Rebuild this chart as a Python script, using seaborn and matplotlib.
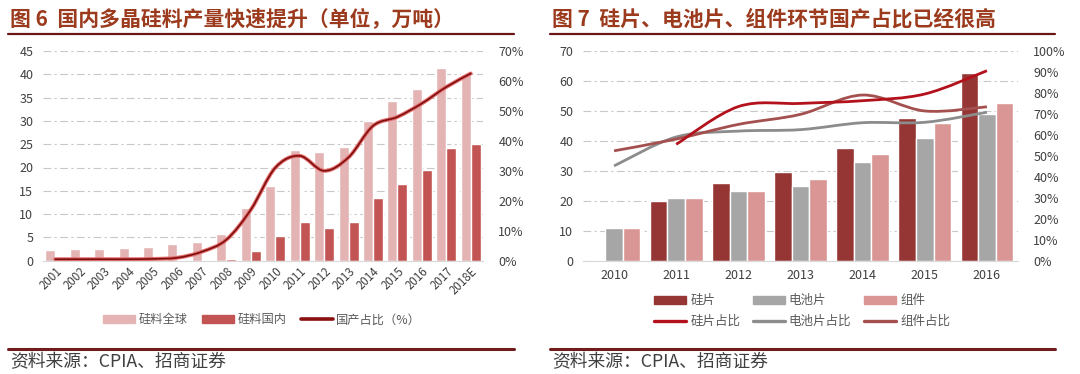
import numpy as np
import pandas as pd
import matplotlib
matplotlib.use("Agg")
import matplotlib.pyplot as plt
import seaborn as sns
from matplotlib.path import Path
from matplotlib.patches import PathPatch, Patch
from matplotlib.lines import Line2D
import matplotlib.patheffects as pe

# ---------------- Data: left chart (图6) ----------------
years_l = ["2001", "2002", "2003", "2004", "2005", "2006", "2007", "2008", "2009",
           "2010", "2011", "2012", "2013", "2014", "2015", "2016", "2017", "2018E"]
poly_global = [2.3, 2.5, 2.5, 2.7, 3.0, 3.6, 4.1, 5.8, 11.4, 16.0, 23.8, 23.4, 24.5,
               30.0, 34.3, 36.9, 41.4, 40.1]
poly_domestic = [0.0, 0.0, 0.0, 0.0, 0.0, 0.05, 0.15, 0.4, 2.1, 5.3, 8.4, 7.1, 8.4,
                 13.5, 16.5, 19.4, 24.1, 25.0]
poly_share = [0.5, 0.5, 0.5, 0.5, 0.6, 1.0, 3.0, 7.0, 17.0, 31.0, 35.0, 30.0, 34.5,
              45.0, 48.0, 52.5, 58.0, 62.5]
labels_l = ["硅料全球", "硅料国内", "国产占比（%）"]

# ---------------- Data: right chart (图7) ----------------
years_r = ["2010", "2011", "2012", "2013", "2014", "2015", "2016"]
wafer = [np.nan, 20.0, 26.0, 29.7, 37.7, 47.7, 62.8]
cell = [11.0, 21.0, 23.3, 25.1, 32.8, 40.9, 48.9]
module = [11.0, 21.0, 23.3, 27.3, 35.7, 45.9, 52.6]
wafer_share = [np.nan, 55.5, 73.5, 75.0, 76.3, 79.5, 90.6]
cell_share = [45.2, 59.0, 61.8, 62.5, 65.8, 66.0, 70.8]
module_share = [52.4, 58.0, 65.0, 69.8, 79.0, 71.4, 73.4]
labels_r = ["硅片", "电池片", "组件", "硅片占比", "电池片占比", "组件占比"]

titles = ["图 6  国内多晶硅料产量快速提升（单位，万吨）",
          "图 7  硅片、电池片、组件环节国产占比已经很高"]
source = "资料来源：CPIA、招商证券"

# ---------------- Style ----------------
sns.set_theme(style="white")
plt.rcParams["font.family"] = ["Noto Sans CJK SC", "DejaVu Sans"]
plt.rcParams["axes.unicode_minus"] = False

W, H = 1080, 374
fig = plt.figure(figsize=(W / 100, H / 100), dpi=100)
fig.patch.set_facecolor("white")

TICK_C = "#404040"
GRID_C = "#C8C8C8"
TITLE_C = "#9B3A1C"
RULE_C = "#6B1616"


def rect(x0, y0, x1, y1):
    return [x0 / W, 1 - y1 / H, (x1 - x0) / W, (y1 - y0) / H]


def smooth_path(xs, ys):
    pts = np.array([(x, y) for x, y in zip(xs, ys) if not np.isnan(y)], dtype=float)
    n = len(pts)
    verts = [pts[0]]
    codes = [Path.MOVETO]
    for i in range(n - 1):
        p0 = pts[max(i - 1, 0)]
        p1 = pts[i]
        p2 = pts[i + 1]
        p3 = pts[min(i + 2, n - 1)]
        c1 = p1 + (p2 - p0) / 6.0
        c2 = p2 - (p3 - p1) / 6.0
        verts += [c1, c2, p2]
        codes += [Path.CURVE4] * 3
    return Path(verts, codes)


def style_axis(ax, ymax, step):
    ax.set_ylim(0, ymax)
    ax.set_yticks(np.arange(0, ymax + 0.01, step))
    ax.yaxis.grid(True, color=GRID_C, lw=0.8, linestyle=(0, (7, 3, 2, 3)))
    ax.xaxis.grid(False)
    ax.set_axisbelow(True)
    for s in ["top", "right", "left"]:
        ax.spines[s].set_visible(False)
    ax.spines["bottom"].set_color("#D9D9D9")
    ax.spines["bottom"].set_linewidth(0.8)
    ax.tick_params(axis="both", length=0, labelsize=9, labelcolor=TICK_C)
    ax.set_xlabel("")
    ax.set_ylabel("")


def pct_axis(ax2, ymax, step):
    ax2.set_ylim(0, ymax)
    ax2.set_yticks(np.arange(0, ymax + 0.01, step))
    ax2.set_yticklabels([f"{int(v)}%" for v in np.arange(0, ymax + 0.01, step)])
    ax2.grid(False)
    for s in ["top", "right", "left", "bottom"]:
        ax2.spines[s].set_visible(False)
    ax2.tick_params(axis="y", length=0, labelsize=9, labelcolor=TICK_C, pad=11)


# ---------------- Left chart ----------------
axL = fig.add_axes(rect(43, 51, 483, 260.7))
dfL = pd.DataFrame({
    "year": years_l * 2,
    "value": poly_global + poly_domestic,
    "series": [labels_l[0]] * len(years_l) + [labels_l[1]] * len(years_l),
})
colL = {labels_l[0]: "#E4B4B4", labels_l[1]: "#C25553"}
sns.barplot(data=dfL, x="year", y="value", hue="series", hue_order=labels_l[:2],
            palette=colL, width=0.82, saturation=1, errorbar=None, legend=False, ax=axL)
style_axis(axL, 45, 5)
axL.tick_params(axis="y", pad=7)
axL.set_xlim(-0.5, len(years_l) - 0.5)
for lab in axL.get_xticklabels():
    lab.set_rotation(45)
    lab.set_ha("right")
    lab.set_rotation_mode("anchor")
    lab.set_fontsize(8.3)
axL.tick_params(axis="x", pad=3)

axL2 = axL.twinx()
pct_axis(axL2, 70, 10)
pL = PathPatch(smooth_path(np.arange(len(years_l)), poly_share), fill=False,
               edgecolor="#7E0E0E", lw=1.2, capstyle="round",
               path_effects=[pe.Stroke(linewidth=2.8, foreground="#E36C6C"), pe.Normal()])
axL2.add_patch(pL)
axL2.set_xlim(-0.5, len(years_l) - 0.5)
axL2.set_ylim(0, 70)

handlesL = [Patch(color=colL[labels_l[0]]), Patch(color=colL[labels_l[1]]),
            Line2D([], [], color="#8A1010", lw=2.6)]
fig.legend(handlesL, labels_l, loc="center", bbox_to_anchor=(262 / W, 1 - 320 / H),
           ncol=3, frameon=False, fontsize=8.8, labelcolor="#595959",
           handlelength=2.6, handleheight=0.55, handletextpad=0.3, columnspacing=1.2)

# ---------------- Right chart ----------------
axR = fig.add_axes(rect(583, 51, 1018, 260.7))
dfR = pd.DataFrame({
    "year": years_r * 3,
    "value": wafer + cell + module,
    "series": [labels_r[0]] * 7 + [labels_r[1]] * 7 + [labels_r[2]] * 7,
})
colR = {labels_r[0]: "#963634", labels_r[1]: "#A6A6A6", labels_r[2]: "#D99694"}
sns.barplot(data=dfR, x="year", y="value", hue="series", hue_order=labels_r[:3],
            palette=colR, width=0.85, saturation=1, errorbar=None, legend=False, ax=axR)
style_axis(axR, 70, 10)
axR.tick_params(axis="y", pad=7)
axR.tick_params(axis="x", pad=6)
axR.set_xlim(-0.5, len(years_r) - 0.5)

axR2 = axR.twinx()
pct_axis(axR2, 100, 10)
line_cols = ["#B3121C", "#8C8C8C", "#A3504F"]
xs = np.arange(len(years_r))
for ser, c in zip([cell_share, module_share, wafer_share], [line_cols[1], line_cols[2], line_cols[0]]):
    axR2.add_patch(PathPatch(smooth_path(xs, ser), fill=False, edgecolor=c, lw=2.0,
                             capstyle="butt"))
axR2.set_xlim(-0.5, len(years_r) - 0.5)
axR2.set_ylim(0, 100)

handlesR = [Patch(color=colR[labels_r[0]]), Line2D([], [], color=line_cols[0], lw=2.4),
            Patch(color=colR[labels_r[1]]), Line2D([], [], color=line_cols[1], lw=2.4),
            Patch(color=colR[labels_r[2]]), Line2D([], [], color=line_cols[2], lw=2.4)]
labsR = [labels_r[0], labels_r[3], labels_r[1], labels_r[4], labels_r[2], labels_r[5]]
fig.legend(handlesR, labsR, loc="center", bbox_to_anchor=(802 / W, 1 - 311 / H),
           ncol=3, frameon=False, fontsize=9, labelcolor="#595959",
           handlelength=2.6, handleheight=0.55, handletextpad=0.3, columnspacing=1.0,
           labelspacing=0.6)

# ---------------- Titles, rules, source ----------------
for x0, x1, t in [(8, 514, titles[0]), (550, 1055, titles[1])]:
    fig.text((x0 + 2) / W, 1 - 19 / H, t, fontsize=15, fontweight="bold",
             color=TITLE_C, va="center", ha="left")
    fig.add_artist(Line2D([x0 / W, x1 / W], [1 - 34 / H] * 2, transform=fig.transFigure,
                          color=RULE_C, lw=1.6))
    fig.add_artist(Line2D([x0 / W, x1 / W], [1 - 349 / H] * 2, transform=fig.transFigure,
                          color="#701C1C", lw=2.2))
    fig.text((x0 + 2) / W, 1 - 362 / H, source, fontsize=12.8, color="#404040",
             va="center", ha="left")

fig.savefig("out.png", dpi=100)
